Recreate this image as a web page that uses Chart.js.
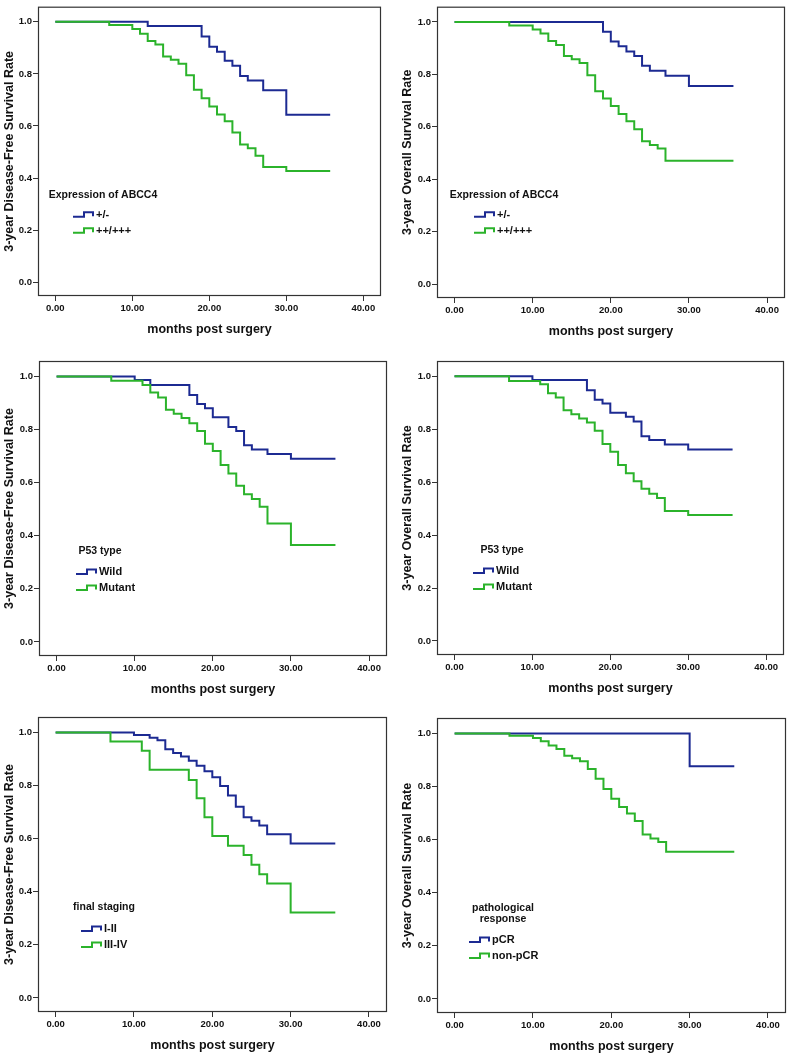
<!DOCTYPE html>
<html>
<head>
<meta charset="utf-8">
<script src="https://cdn.jsdelivr.net/npm/chart.js@4.4.1/dist/chart.umd.min.js"></script>
<style>
  html, body { margin: 0; padding: 0; background: #fff; }
  #wrap { position: relative; width: 791px; height: 1058px; overflow: hidden; }
  #wrap canvas { position: absolute; }
</style>
</head>
<body>
<div id="wrap"></div>
<script>
// axis ticks & titles
const xTicks = [0, 10, 20, 30, 40];
const yTicks = [0, 0.2, 0.4, 0.6, 0.8, 1.0];
const xTitle = 'months post surgery';
const dfsTitle = '3-year Disease-Free Survival Rate';
const osTitle = '3-year Overall Survival Rate';
const followEnd = 35.7;   // last follow-up (months)

// ABCC4 expression – DFS
const dfsAbccLowT  = [0, 12, 19, 20, 21, 22, 23, 24, 25, 27, 30];
const dfsAbccLowS  = [1.0, 0.984, 0.944, 0.904, 0.885, 0.850, 0.831, 0.792, 0.775, 0.737, 0.643];
const dfsAbccHighT = [0, 7, 10, 11, 12, 13, 14, 15, 16, 17, 18, 19, 20, 21, 22, 23, 24, 25, 26, 27, 30];
const dfsAbccHighS = [1.0, 0.988, 0.972, 0.954, 0.926, 0.913, 0.867, 0.854, 0.839, 0.795, 0.739, 0.706, 0.675, 0.644, 0.618, 0.575, 0.529, 0.514, 0.486, 0.442, 0.427];

// ABCC4 expression – OS
const osAbccLowT  = [0, 19, 20, 21, 22, 23, 24, 25, 27, 30];
const osAbccLowS  = [1.0, 0.962, 0.925, 0.907, 0.887, 0.870, 0.833, 0.814, 0.795, 0.756];
const osAbccHighT = [0, 7, 10, 11, 12, 13, 14, 15, 16, 17, 18, 19, 20, 21, 22, 23, 24, 25, 26, 27];
const osAbccHighS = [1.0, 0.986, 0.971, 0.956, 0.927, 0.912, 0.870, 0.858, 0.843, 0.797, 0.736, 0.708, 0.679, 0.649, 0.621, 0.591, 0.545, 0.531, 0.517, 0.470];

// P53 type – DFS
const dfsWildT   = [0, 10, 12, 17, 18, 19, 20, 22, 23, 24, 25, 27, 30];
const dfsWildS   = [1.0, 0.986, 0.968, 0.930, 0.896, 0.880, 0.846, 0.809, 0.794, 0.741, 0.725, 0.708, 0.690];
const dfsMutantT = [0, 7, 11, 12, 13, 14, 15, 16, 17, 18, 19, 20, 21, 22, 23, 24, 25, 26, 27, 30];
const dfsMutantS = [1.0, 0.984, 0.968, 0.939, 0.921, 0.874, 0.859, 0.843, 0.824, 0.794, 0.746, 0.719, 0.666, 0.634, 0.588, 0.556, 0.538, 0.509, 0.446, 0.365];

// P53 type – OS
const osWildT   = [0, 10, 17, 18, 19, 20, 22, 23, 24, 25, 27, 30];
const osWildS   = [1.0, 0.986, 0.947, 0.912, 0.897, 0.862, 0.847, 0.829, 0.774, 0.759, 0.742, 0.724];
const osMutantT = [0, 7, 11, 12, 13, 14, 15, 16, 17, 18, 19, 20, 21, 22, 23, 24, 25, 26, 27, 30];
const osMutantS = [1.0, 0.982, 0.970, 0.936, 0.920, 0.872, 0.857, 0.841, 0.826, 0.794, 0.744, 0.715, 0.665, 0.634, 0.604, 0.575, 0.556, 0.540, 0.491, 0.476];

// final staging – DFS
const dfsEarlyT = [0, 10, 12, 13, 14, 15, 16, 17, 18, 19, 20, 21, 22, 23, 24, 25, 26, 27, 30];
const dfsEarlyS = [1.0, 0.990, 0.980, 0.970, 0.937, 0.922, 0.909, 0.893, 0.874, 0.854, 0.831, 0.798, 0.762, 0.720, 0.680, 0.667, 0.649, 0.616, 0.582];
const dfsLateT  = [0, 7, 11, 12, 17, 18, 19, 20, 22, 24, 25, 26, 27, 30];
const dfsLateS  = [1.0, 0.966, 0.931, 0.859, 0.821, 0.752, 0.680, 0.610, 0.573, 0.538, 0.502, 0.466, 0.431, 0.322];

// pathological response – OS
const osPcrT    = [0, 30];
const osPcrS    = [1.0, 0.876];
const osNonPcrT = [0, 7, 10, 11, 12, 13, 14, 15, 16, 17, 18, 19, 20, 21, 22, 23, 24, 25, 26, 27];
const osNonPcrS = [1.0, 0.991, 0.983, 0.970, 0.954, 0.941, 0.916, 0.906, 0.895, 0.866, 0.829, 0.791, 0.754, 0.723, 0.698, 0.670, 0.619, 0.604, 0.591, 0.554];

const BLUE = '#1c2a92';
const GREEN = '#2bb32b';
const FONT = "'Liberation Sans', Arial, sans-serif";

// step function points, held flat to the last follow-up
function km(times, surv) {
  const pts = times.map((t, i) => ({ x: t, y: surv[i] }));
  pts.push({ x: followEnd, y: surv[surv.length - 1] });
  return pts;
}

// canvas box + plot frame (absolute px), legend offsets relative to frame
const panels = [
  { box: [0, 0, 395, 350],     frame: [38, 5, 381, 296],     yTitle: dfsTitle, ytPad: 2.5,
    legTitle: ['Expression of ABCC4'], labels: ['+/-', '++/+++'],
    series: [[dfsAbccLowT, dfsAbccLowS], [dfsAbccHighT, dfsAbccHighS]],
    leg: { tx: 65, ty: 188, ix: 35, iy: 208 } },
  { box: [395, 0, 396, 350],   frame: [437, 4, 785, 298],    yTitle: osTitle, ytPad: 5,
    legTitle: ['Expression of ABCC4'], labels: ['+/-', '++/+++'],
    series: [[osAbccLowT, osAbccLowS], [osAbccHighT, osAbccHighS]],
    leg: { tx: 67, ty: 188, ix: 37, iy: 208 } },
  { box: [0, 350, 395, 350],   frame: [39, 361, 387, 656],   yTitle: dfsTitle, ytPad: 2.5,
    legTitle: ['P53 type'], labels: ['Wild', 'Mutant'],
    series: [[dfsWildT, dfsWildS], [dfsMutantT, dfsMutantS]],
    leg: { tx: 61, ty: 190, ix: 37, iy: 211 } },
  { box: [395, 350, 396, 350], frame: [437, 361, 784, 655],  yTitle: osTitle, ytPad: 5,
    legTitle: ['P53 type'], labels: ['Wild', 'Mutant'],
    series: [[osWildT, osWildS], [osMutantT, osMutantS]],
    leg: { tx: 65, ty: 189, ix: 36, iy: 210 } },
  { box: [0, 700, 395, 358],   frame: [38, 717, 387, 1012],  yTitle: dfsTitle, ytPad: 2.5,
    legTitle: ['final staging'], labels: ['I-II', 'III-IV'],
    series: [[dfsEarlyT, dfsEarlyS], [dfsLateT, dfsLateS]],
    leg: { tx: 66, ty: 190, ix: 43, iy: 212 } },
  { box: [395, 700, 396, 358], frame: [437, 718, 786, 1013], yTitle: osTitle, ytPad: 5,
    legTitle: ['pathological', 'response'], labels: ['pCR', 'non-pCR'],
    series: [[osPcrT, osPcrS], [osNonPcrT, osNonPcrS]],
    leg: { tx: 66, ty: 190, ix: 32, iy: 222 } },
];

// box round the whole plot area
const framePlugin = {
  id: 'frame',
  afterDraw(chart) {
    const a = chart.chartArea, ctx = chart.ctx;
    ctx.save();
    ctx.strokeStyle = '#333';
    ctx.lineWidth = 1.2;
    ctx.strokeRect(a.left + 0.5, a.top + 0.5, a.right - a.left - 1, a.bottom - a.top - 1);
    ctx.restore();
  }
};

// SPSS style legend inside the plot
const kmLegend = {
  id: 'kmLegend',
  afterDraw(chart, args, opts) {
    const a = chart.chartArea, ctx = chart.ctx;
    ctx.save();
    ctx.fillStyle = '#111';
    ctx.textBaseline = 'middle';
    ctx.textAlign = 'center';
    ctx.font = 'bold 10.5px ' + FONT;
    opts.title.forEach((t, i) => ctx.fillText(t, a.left + opts.tx, a.top + opts.ty + i * 11));
    ctx.textAlign = 'left';
    ctx.font = 'bold 11px ' + FONT;
    chart.data.datasets.forEach((ds, i) => {
      const x = a.left + opts.ix, y = a.top + opts.iy + i * 16;
      ctx.strokeStyle = ds.borderColor;
      ctx.lineWidth = 2;
      ctx.beginPath();
      ctx.moveTo(x, y + 2);
      ctx.lineTo(x + 11, y + 2);
      ctx.lineTo(x + 11, y - 2.5);
      ctx.lineTo(x + 20, y - 2.5);
      ctx.lineTo(x + 20, y + 1.5);
      ctx.stroke();
      ctx.fillText(ds.label, x + 23, y);
    });
    ctx.restore();
  }
};

const wrap = document.getElementById('wrap');
panels.forEach(p => {
  const [bx, by, bw, bh] = p.box;
  const [fl, ft, fr, fb] = p.frame;
  const cv = document.createElement('canvas');
  cv.width = bw; cv.height = bh;
  cv.style.left = bx + 'px'; cv.style.top = by + 'px';
  cv.style.width = bw + 'px'; cv.style.height = bh + 'px';
  wrap.appendChild(cv);

  const yW = fl - bx, xH = by + bh - fb;
  const tickFont = { family: FONT, size: 9.5, weight: 'bold' };
  const titleFont = { family: FONT, size: 12.5, weight: 'bold' };

  new Chart(cv, {
    type: 'line',
    data: {
      datasets: p.series.map((s, i) => ({
        label: p.labels[i],
        data: km(s[0], s[1]),
        borderColor: i === 0 ? BLUE : GREEN,
        borderWidth: 2,
        pointRadius: 0,
        stepped: true,
        fill: false,
        order: i === 0 ? 1 : 0,   // green drawn over blue
      })),
    },
    options: {
      responsive: false,
      animation: false,
      devicePixelRatio: 1,
      layout: { padding: { left: 0, top: ft - by, right: bx + bw - fr, bottom: 0 } },
      plugins: {
        legend: { display: false },
        tooltip: { enabled: false },
        kmLegend: { title: p.legTitle, ...p.leg },
      },
      scales: {
        x: {
          type: 'linear', min: -2.25, max: 42.3,
          afterBuildTicks: s => { s.ticks = xTicks.map(v => ({ value: v })); },
          afterFit: s => { s.height = xH; },
          grid: { display: true, drawOnChartArea: false, drawTicks: true, tickLength: 5, color: '#333' },
          border: { display: false },
          ticks: { autoSkip: false, maxRotation: 0, padding: 2, color: '#111', font: tickFont,
            callback: v => v.toFixed(2) },
          title: { display: true, text: xTitle, color: '#111', font: titleFont,
            padding: { top: 0, bottom: xH - 41.5 } },
        },
        y: {
          type: 'linear', min: -0.053, max: 1.058,
          afterBuildTicks: s => { s.ticks = yTicks.map(v => ({ value: v })); },
          afterFit: s => { s.width = yW; },
          grid: { display: true, drawOnChartArea: false, drawTicks: true, tickLength: 5, color: '#333' },
          border: { display: false },
          ticks: { padding: 1, color: '#111', font: tickFont, callback: v => v.toFixed(1) },
          title: { display: true, text: p.yTitle, color: '#111', font: titleFont,
            padding: { top: p.ytPad, bottom: 0 } },
        },
      },
    },
    plugins: [framePlugin, kmLegend],
  });
});
</script>
</body>
</html>
